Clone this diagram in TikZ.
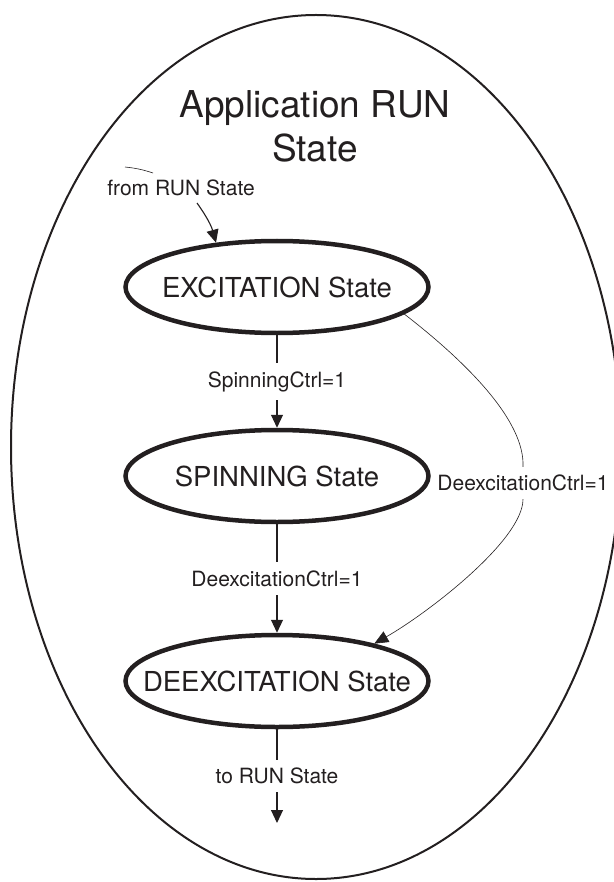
\documentclass[tikz,border=0pt]{standalone}
\usepackage{fontspec}
\setmainfont{TeX Gyre Heros}
\usetikzlibrary{shapes.geometric,arrows.meta}
\definecolor{ink}{RGB}{35,31,32}
\begin{document}
\begin{tikzpicture}[x=1pt,y=-1pt,
  state/.style={ellipse, draw=ink, line width=4.5pt, minimum width=303pt,
    minimum height=92pt, inner sep=0pt, text=ink,
    font=\fontsize{27.5}{32}\selectfont},
  lbl/.style={fill=white, text=ink, inner xsep=4pt, inner ysep=8pt,
    font=\fontsize{21}{25}\selectfont},
  conn/.style={draw=ink, line width=1.1pt, -{Triangle[length=13pt,width=12pt]}},
  thinconn/.style={draw=ink, line width=0.6pt, -{Triangle[length=14pt,width=12pt]}},
  thinline/.style={draw=ink, line width=0.6pt}
]
\useasboundingbox (0,0) rectangle (613,882);
% outer state
\draw[ink, line width=2pt] (316,447) ellipse [x radius=305, y radius=432];
\node[ink, align=center, font=\fontsize{37}{44}\selectfont, anchor=base, inner sep=0pt]
  (title) at (315,162) {Application RUN\\State};
% states
\node[state] (exc)  at (277,287) {\makebox[0pt]{EXCITATION State}};
\node[state] (spin) at (277,476) {\makebox[0pt]{SPINNING State}};
\node[state] (deex) at (277,681) {\makebox[0pt]{DEEXCITATION State}};
% entry
\node[text=ink, inner sep=0pt, font=\fontsize{21}{25}\selectfont] (from) at (181,188) {from RUN State};
\draw[thinline] (125,167) to[bend left=6] (153,173);
\coordinate (fin) at (197,203);
\draw[conn] (fin) to[bend left=10] (exc.144);
% transitions
\draw[conn] (exc) -- node[lbl] {SpinningCtrl=1} (spin);
\draw[conn] (spin) -- node[lbl] {DeexcitationCtrl=1} (deex);
\coordinate (out) at (277,823);
\draw[conn] (deex) -- node[lbl] {to RUN State} (out);
% side transition
\node[lbl, fill=none] (dlbl) at (523,483) {DeexcitationCtrl=1};
\draw[thinline] (exc.-12) .. controls (465,361) and (525,420) .. (dlbl.north);
\draw[thinconn] (dlbl.south) .. controls (523,540) and (428,613) .. (deex.21);
\end{tikzpicture}
\end{document}
